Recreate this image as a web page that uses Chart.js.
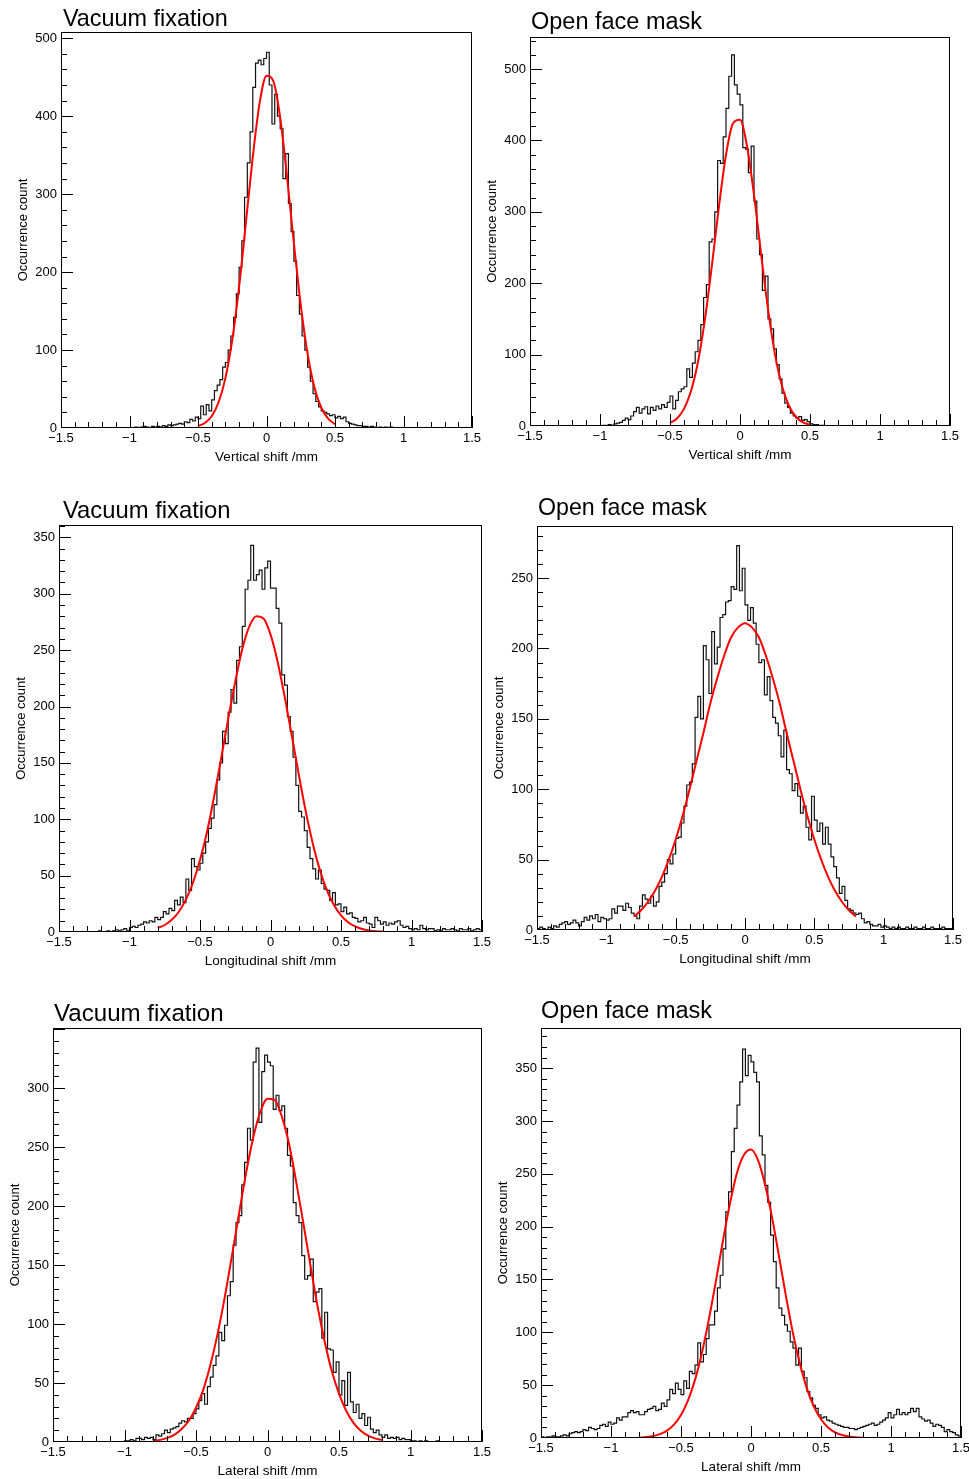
<!DOCTYPE html>
<html>
<head>
<meta charset="utf-8">
<title>Shift histograms</title>
<script src="https://cdn.jsdelivr.net/npm/chart.js@4.4.0/dist/chart.umd.min.js"></script>
<style>
  html, body { margin: 0; padding: 0; background: #fff; }
  #page { position: relative; width: 969px; height: 1479px; overflow: hidden; background: #fff; }
  #page canvas { position: absolute; }
</style>
</head>
<body>
<div id="page"></div>
<script>
// histogram bin width (mm); each panel lists counts from its start edge
const binWidth = 0.02;

const vertVacStart = -1.0;
const vertVacCounts = [
  0,0,1,0,1,2,1,0,2,1,
  2,1,3,2,4,3,4,5,6,5,
  8,7,11,9,14,12,28,17,30,22,
  36,48,55,62,78,84,100,118,142,172,
  206,240,296,340,380,437,468,472,466,474,
  482,440,390,428,400,384,320,352,288,252,
  214,170,146,118,100,78,60,44,34,27,
  22,20,18,16,17,13,15,12,14,8,
  6,5,4,3,3,2,2,1,2,1,
  0,1,0,1,0,1,0,0,0,0
];

const vertMaskStart = -1.0;
const vertMaskCounts = [
  0,1,1,2,1,3,4,5,8,11,
  9,14,20,26,18,24,27,17,26,22,
  28,24,30,26,33,42,24,36,48,52,
  55,80,68,88,104,120,142,180,198,258,
  262,300,372,368,405,445,490,520,478,465,
  450,390,388,355,392,315,262,240,190,210,
  150,136,108,86,66,46,32,26,18,14,
  11,13,8,9,6,3,2,2,1,1
];

const longVacStart = -1.5;
const longVacCounts = [
  0,0,0,0,0,0,0,0,0,0,
  0,0,0,0,1,0,0,1,0,1,
  2,1,2,3,1,4,5,4,6,7,
  9,8,10,9,13,11,13,18,16,21,
  19,28,24,31,26,47,37,65,58,55,
  61,70,80,92,101,113,135,150,178,167,
  195,215,203,241,253,271,304,312,343,312,
  317,321,304,323,329,305,305,287,274,228,
  219,191,178,155,130,107,102,90,75,65,
  56,47,55,43,38,37,28,35,24,25,
  18,22,16,17,13,12,9,10,13,8,
  7,4,13,10,7,9,6,8,7,9,
  10,6,4,5,3,2,3,2,6,3,
  2,3,3,1,2,1,3,2,2,3,
  2,1,3,2,2,3,1,2,3,2
];

const longMaskStart = -1.5;
const longMaskCounts = [
  1,2,1,0,2,1,3,2,4,5,
  6,4,5,7,5,3,6,9,7,10,
  8,11,6,9,8,7,8,15,12,17,
  17,14,19,16,12,10,8,17,25,22,
  19,24,17,20,31,34,40,50,47,54,
  65,66,76,88,103,105,118,151,166,150,
  202,192,168,212,189,201,222,224,233,234,
  244,242,273,241,257,231,220,229,218,203,
  190,192,167,180,163,151,147,138,123,142,
  114,111,99,104,95,83,88,73,64,95,
  78,70,76,61,73,61,52,45,37,26,
  31,21,15,14,12,11,12,8,5,6,
  4,3,3,4,2,3,2,1,2,1,
  2,1,1,2,1,1,2,1,1,2,
  1,1,2,1,1,1,2,1,1,1
];

const latVacStart = -1.5;
const latVacCounts = [
  0,0,0,0,0,0,0,0,0,0,
  0,0,0,0,0,0,0,0,0,0,
  0,0,0,0,0,1,1,2,1,3,
  3,2,4,3,4,2,6,5,7,10,
  8,11,12,13,16,18,17,20,20,24,
  28,35,41,32,47,55,65,73,93,86,
  99,124,136,167,186,192,218,237,266,256,
  322,334,271,314,328,322,319,282,294,281,
  285,266,243,234,203,192,186,158,138,141,
  155,119,127,130,88,110,79,78,59,68,
  40,52,31,59,34,25,32,20,24,14,
  21,11,8,10,6,4,6,3,4,3,
  4,2,3,2,2,1,1,0,1,0,
  1,0,0,0,1,0,0,0,0,0,
  0,0,0,0,0,0,0,0,0,0
];

const latMaskStart = -1.5;
const latMaskCounts = [
  1,0,1,1,2,1,1,2,3,2,
  4,5,6,5,6,8,7,10,9,8,
  9,12,13,11,15,13,14,19,17,20,
  20,24,26,24,25,22,22,25,27,28,
  30,26,27,33,30,36,46,42,52,46,
  41,54,47,63,61,69,90,72,79,94,
  107,107,120,142,154,179,214,233,271,293,
  315,337,368,343,362,356,346,337,286,268,
  239,223,192,167,142,123,116,107,101,91,
  85,69,85,63,57,44,38,31,28,22,
  19,20,17,16,14,13,12,11,10,10,
  9,9,8,9,10,11,12,13,14,12,
  13,15,17,19,24,19,22,27,22,24,
  22,24,28,25,28,20,18,16,17,14,
  11,13,12,10,6,8,6,5,3,2
];

// gaussian fit curves (red), read at fixed x positions
const fitX05 = [-0.5,-0.45,-0.4,-0.35,-0.3,-0.25,-0.2,-0.15,-0.1,-0.05,0,0.05,0.1,0.15,0.2,0.25,0.3,0.35,0.4,0.45,0.5];
const fitX08 = [-0.8,-0.75,-0.7,-0.65,-0.6,-0.55,-0.5,-0.45,-0.4,-0.35,-0.3,-0.25,-0.2,-0.15,-0.1,-0.05,0,
                0.05,0.1,0.15,0.2,0.25,0.3,0.35,0.4,0.45,0.5,0.55,0.6,0.65,0.7,0.75,0.8];

const vertVacFit  = [2.5,6.4,15,33,64,113,181,264,348,417,452,445,398,322,237,158,95,52,26,12,5];
const vertMaskFit = [4.3,10.6,24,49,90,150,226,308,380,424,429,392,324,242,164,100,56,28,12.6,5.2,1.9];
const longVacFit  = [3.5,6.2,10.8,18,28.7,43.7,63.8,89,120,154,189,222,251,271,280,278,264,
                     240,209,175,140,107,78.5,55,37,24,14.8,8.7,5,2.7,1.4,0.7,0.3];
const longMaskFit = [9.6,14,19.9,27.7,37.6,49.8,64.3,81,99.8,120,140,161,179,195,208,215,218,
                     215,208,195,179,161,140,120,99.8,81,64.3,49.8,37.6,27.7,19.9,14,9.6];
const latVacFit   = [0.9,1.8,3.5,6.3,11,18,29,44,65,91,122,157,193,228,258,280,291,
                     290,276,253,221,186,150,115,85,60,41,26.5,16.5,9.8,5.6,3.1,1.6];
const latMaskFit  = [0.4,0.9,1.8,3.7,7,12.7,21.8,35.6,55,81,113,149,187,222,251,268,273,
                     263,240,209,172,134,99,70,46.5,29.4,17.7,10,5.4,2.8,1.4,0.6,0.2];

const xTickLabels = ['\u22121.5', '\u22121', '\u22120.5', '0', '0.5', '1', '1.5'];

const fontFamily = '"Liberation Sans", Arial, Helvetica, sans-serif';

// ROOT-like frame: box, inward ticks on left and bottom, pad title
const rootFrame = {
  id: 'rootFrame',
  afterDatasetsDraw(chart, args, opts) {
    const { ctx, chartArea: a, scales: { x, y } } = chart;
    ctx.save();
    ctx.strokeStyle = '#000';
    ctx.lineWidth = 1;
    ctx.strokeRect(Math.round(a.left) + 0.5, Math.round(a.top) + 0.5,
                   Math.round(a.right - a.left) - 1, Math.round(a.bottom - a.top) - 1);
    ctx.beginPath();
    for (let k = 0; k <= 30; k++) {
      const px = Math.round(x.getPixelForValue(-1.5 + k * 0.1)) + 0.5;
      const len = k % 5 === 0 ? 12 : 6;
      ctx.moveTo(px, a.bottom);
      ctx.lineTo(px, a.bottom - len);
    }
    for (let k = 1; k * opts.yMinor <= y.max; k++) {
      const v = k * opts.yMinor;
      const py = Math.round(y.getPixelForValue(v)) + 0.5;
      const len = v % opts.yMajor === 0 ? 12 : 6;
      ctx.moveTo(a.left, py);
      ctx.lineTo(a.left + len, py);
    }
    ctx.stroke();

    ctx.fillStyle = '#000';
    ctx.font = opts.titleSize + 'px ' + fontFamily;
    ctx.textAlign = 'left';
    ctx.textBaseline = 'alphabetic';
    ctx.fillText(opts.title, a.left + opts.titleDx, a.top - opts.titleDy);
    ctx.restore();
  }
};

function histPoints(start, counts) {
  const pts = [{ x: start, y: 0 }];
  counts.forEach((c, i) => pts.push({ x: start + i * binWidth, y: c }));
  pts.push({ x: start + counts.length * binWidth, y: 0 });
  return pts;
}

function fitPoints(xs, ys) {
  return xs.map((v, i) => ({ x: v, y: ys[i] }));
}

const panels = [
  { title: 'Vacuum fixation', xTitle: 'Vertical shift /mm', start: vertVacStart, counts: vertVacCounts,
    fitX: fitX05, fit: vertVacFit, yMax: 508, yMajor: 100, yMinor: 20,
    frame: { l: 61, t: 32, r: 472, b: 428 }, titleSize: 23.4, titleDx: 2, titleDy: 6 },
  { title: 'Open face mask', xTitle: 'Vertical shift /mm', start: vertMaskStart, counts: vertMaskCounts,
    fitX: fitX05, fit: vertMaskFit, yMax: 545, yMajor: 100, yMinor: 20,
    frame: { l: 530, t: 37, r: 950, b: 426 }, titleSize: 23.5, titleDx: 1, titleDy: 8 },
  { title: 'Vacuum fixation', xTitle: 'Longitudinal shift /mm', start: longVacStart, counts: longVacCounts,
    fitX: fitX08, fit: longVacFit, yMax: 361, yMajor: 50, yMinor: 10,
    frame: { l: 59, t: 525, r: 482, b: 932 }, titleSize: 23.8, titleDx: 4, titleDy: 7 },
  { title: 'Open face mask', xTitle: 'Longitudinal shift /mm', start: longMaskStart, counts: longMaskCounts,
    fitX: fitX08, fit: longMaskFit, yMax: 287, yMajor: 50, yMinor: 10,
    frame: { l: 537, t: 526, r: 953, b: 930 }, titleSize: 23.2, titleDx: 1, titleDy: 11 },
  { title: 'Vacuum fixation', xTitle: 'Lateral shift /mm', start: latVacStart, counts: latVacCounts,
    fitX: fitX08, fit: latVacFit, yMax: 351, yMajor: 50, yMinor: 10,
    frame: { l: 53, t: 1028, r: 482, b: 1442 }, titleSize: 24.1, titleDx: 1, titleDy: 7 },
  { title: 'Open face mask', xTitle: 'Lateral shift /mm', start: latMaskStart, counts: latMaskCounts,
    fitX: fitX08, fit: latMaskFit, yMax: 388, yMajor: 50, yMinor: 10,
    frame: { l: 541, t: 1028, r: 961, b: 1438 }, titleSize: 23.5, titleDx: 0, titleDy: 10 }
];

const Y_AXIS_W = 50, X_AXIS_H = 40;

function makePanel(p) {
  const f = p.frame;
  const left = f.l - 62, top = f.t - 36;
  const w = f.r - left + 16, h = f.b - top + 44;
  const cv = document.createElement('canvas');
  cv.width = w; cv.height = h;
  cv.style.left = left + 'px';
  cv.style.top = top + 'px';
  cv.style.width = w + 'px';
  cv.style.height = h + 'px';
  document.getElementById('page').appendChild(cv);

  new Chart(cv, {
    type: 'line',
    data: {
      datasets: [
        { label: 'fit', data: fitPoints(p.fitX, p.fit), borderColor: '#ff0000', borderWidth: 2,
          pointRadius: 0, cubicInterpolationMode: 'monotone', fill: false, order: 0 },
        { label: 'counts', data: histPoints(p.start, p.counts), borderColor: '#111', borderWidth: 1.2,
          pointRadius: 0, stepped: true, fill: false, order: 1 }
      ]
    },
    options: {
      responsive: false,
      animation: false,
      devicePixelRatio: 1,
      layout: { padding: { left: 62 - Y_AXIS_W, top: 36, right: 16, bottom: 44 - X_AXIS_H } },
      plugins: {
        legend: { display: false },
        tooltip: { enabled: false },
        rootFrame: { title: p.title, titleSize: p.titleSize, titleDx: p.titleDx, titleDy: p.titleDy,
                     yMajor: p.yMajor, yMinor: p.yMinor }
      },
      scales: {
        x: {
          type: 'linear', position: 'bottom', min: -1.5, max: 1.5,
          grid: { display: false, drawTicks: false },
          border: { display: false },
          ticks: {
            stepSize: 0.5, autoSkip: false, maxRotation: 0, padding: 3, color: '#000',
            font: { family: fontFamily, size: 13 },
            callback: (v) => xTickLabels[Math.round((v + 1.5) / 0.5)]
          },
          title: { display: true, text: p.xTitle, color: '#000',
                   font: { family: fontFamily, size: 13.5 }, padding: { top: 0, bottom: 3 } },
          afterFit: (s) => { s.height = X_AXIS_H; }
        },
        y: {
          type: 'linear', position: 'left', min: 0, max: p.yMax,
          grid: { display: false, drawTicks: false },
          border: { display: false },
          ticks: {
            autoSkip: false, padding: 4, color: '#000',
            font: { family: fontFamily, size: 13 }
          },
          afterBuildTicks: (s) => {
            // labels only where they fit below the top edge of the frame
            const t = [];
            for (let v = 0; v <= p.yMax - 2; v += p.yMajor) t.push({ value: v });
            s.ticks = t;
          },
          title: { display: true, text: 'Occurrence count', color: '#000',
                   font: { family: fontFamily, size: 13 }, padding: { top: 5, bottom: 0 } },
          afterFit: (s) => { s.width = Y_AXIS_W; }
        }
      }
    },
    plugins: [rootFrame]
  });
}

panels.forEach(makePanel);
</script>
</body>
</html>
